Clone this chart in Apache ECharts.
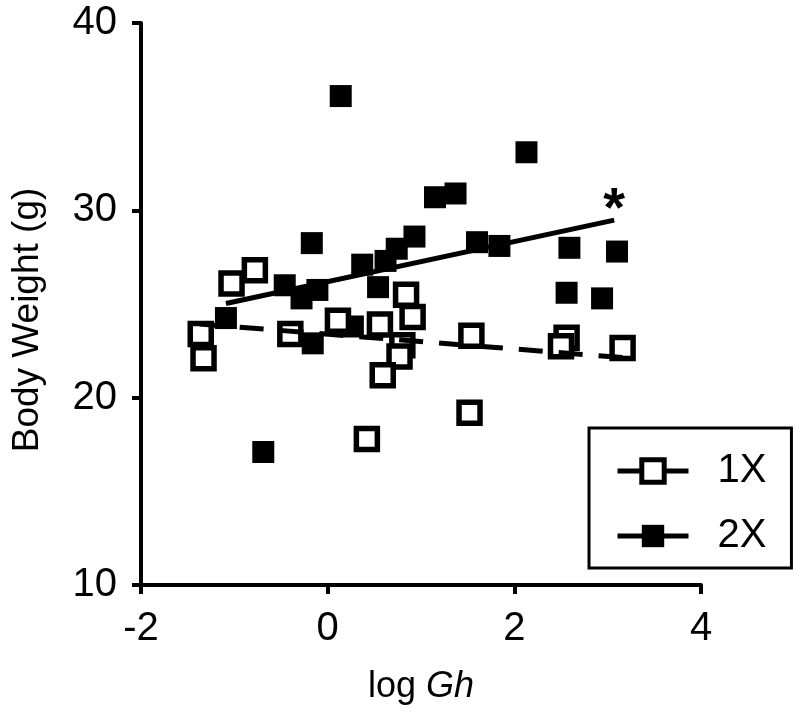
<!DOCTYPE html>
<html><head><meta charset="utf-8">
<script src="https://cdn.jsdelivr.net/npm/echarts@6/dist/echarts.min.js"></script>
<style>html,body{margin:0;padding:0;background:#fff}#c{width:797px;height:715px}</style>
</head><body><div id="c"></div><script>
// 1X: open squares [log Gh, body weight g]
const points1X = [
  [-1.36, 23.4], [-1.33, 22.1], [-1.03, 26.1], [-0.78, 26.8], [-0.40, 23.4],
  [0.11, 24.1], [0.56, 23.9], [0.84, 25.5], [0.91, 24.3], [0.80, 22.8],
  [0.77, 22.2], [0.59, 21.2], [0.42, 17.8], [1.52, 19.2], [1.54, 23.3],
  [2.56, 23.2], [2.50, 22.75], [3.16, 22.65]
];
// 2X: filled squares
const points2X = [
  [0.14, 36.1], [2.13, 33.1], [1.15, 30.7], [1.37, 30.9], [0.93, 28.6],
  [0.74, 27.95], [0.37, 27.1], [0.62, 27.3], [0.54, 25.9], [1.60, 28.3],
  [1.84, 28.1], [2.59, 28.0], [3.10, 27.8], [2.56, 25.6], [2.94, 25.3],
  [-0.17, 28.25], [-0.46, 26.0], [-0.11, 25.75], [-0.28, 25.3], [-1.09, 24.25],
  [-0.16, 22.9], [0.27, 23.8], [-0.69, 17.1]
];
// regression lines (end points)
const fit1X = [[-1.37, 23.93], [3.16, 22.14]];
const fit2X = [[-1.09, 25.03], [3.07, 29.48]];
// significance marker
const starPos = [[3.07, 30.0]];
const seriesNames = ['1X', '2X'];
const xTitle = ['log ', 'Gh'];
const yTitle = 'Body Weight (g)';
const xRange = [-2, 4, 2];
const yRange = [10, 40, 10];

const font = 'Liberation Sans, Arial, sans-serif';
const chart = echarts.init(document.getElementById('c'), null, {renderer: 'canvas'});
const axisCommon = {
  axisLine: {onZero: false, lineStyle: {color: '#000', width: 4}},
  axisTick: {length: 9, lineStyle: {color: '#000', width: 4}},
  splitLine: {show: false},
  axisLabel: {color: '#000', fontSize: 40, fontFamily: font}
};
chart.setOption({
  animation: false,
  backgroundColor: '#fff',
  grid: {left: 141, right: 96, top: 23, bottom: 130, containLabel: false},
  xAxis: Object.assign({}, axisCommon, {
    type: 'value', min: xRange[0], max: xRange[1], interval: xRange[2],
    axisLabel: Object.assign({}, axisCommon.axisLabel, {margin: 24}),
    name: '{n|' + xTitle[0] + '}{i|' + xTitle[1] + '}',
    nameLocation: 'middle', nameGap: 84,
    nameTextStyle: {rich: {
      n: {fontSize: 36, fontFamily: font, color: '#000'},
      i: {fontSize: 36, fontFamily: font, color: '#000', fontStyle: 'italic'}
    }}
  }),
  yAxis: Object.assign({}, axisCommon, {
    type: 'value', min: yRange[0], max: yRange[1], interval: yRange[2],
    axisLabel: Object.assign({}, axisCommon.axisLabel, {margin: 24}),
    name: yTitle, nameLocation: 'middle', nameGap: 95,
    nameTextStyle: {fontSize: 37, fontFamily: font, color: '#000', padding: [0, 32, 0, 0]}
  }),
  legend: {
    data: [
      {name: seriesNames[0], lineStyle: {type: 'solid', width: 5},
       itemStyle: {color: '#fff', borderColor: '#000', borderWidth: 5}},
      {name: seriesNames[1], lineStyle: {width: 5}, itemStyle: {color: '#000'}}
    ],
    orient: 'vertical', left: 589, top: 428,
    padding: [23, 25, 12, 26],
    itemWidth: 71, itemHeight: 28, itemGap: 25,
    borderColor: '#000', borderWidth: 3,
    selectedMode: false,
    textStyle: {fontSize: 40, color: '#000', fontFamily: font, padding: [0, 0, 0, 24]}
  },
  series: [
    {name: '2X pts', type: 'scatter', data: points2X, symbol: 'rect', symbolSize: 22,
     itemStyle: {color: '#000', opacity: 1}, z: 2},
    {name: '1X pts', type: 'scatter', data: points1X, symbol: 'rect', symbolSize: 21,
     itemStyle: {color: '#fff', borderColor: '#000', borderWidth: 5.5, opacity: 1}, z: 3},
    {name: seriesNames[1], type: 'line', data: fit2X, showSymbol: false, symbol: 'rect', symbolSize: 22,
     itemStyle: {color: '#000'}, lineStyle: {color: '#000', width: 5}, z: 4},
    {name: seriesNames[0], type: 'line', data: fit1X, showSymbol: false, symbol: 'rect', symbolSize: 21,
     itemStyle: {color: '#fff', borderColor: '#000', borderWidth: 5},
     lineStyle: {color: '#000', width: 5, type: [24, 16]}, z: 4},
    {name: 'sig', type: 'scatter', data: starPos, symbolSize: 0, silent: true,
     itemStyle: {opacity: 1},
     label: {show: true, position: 'inside', formatter: '*', fontSize: 56, fontWeight: 'bold',
             color: '#000', fontFamily: font}, z: 5}
  ]
});
</script></body></html>
